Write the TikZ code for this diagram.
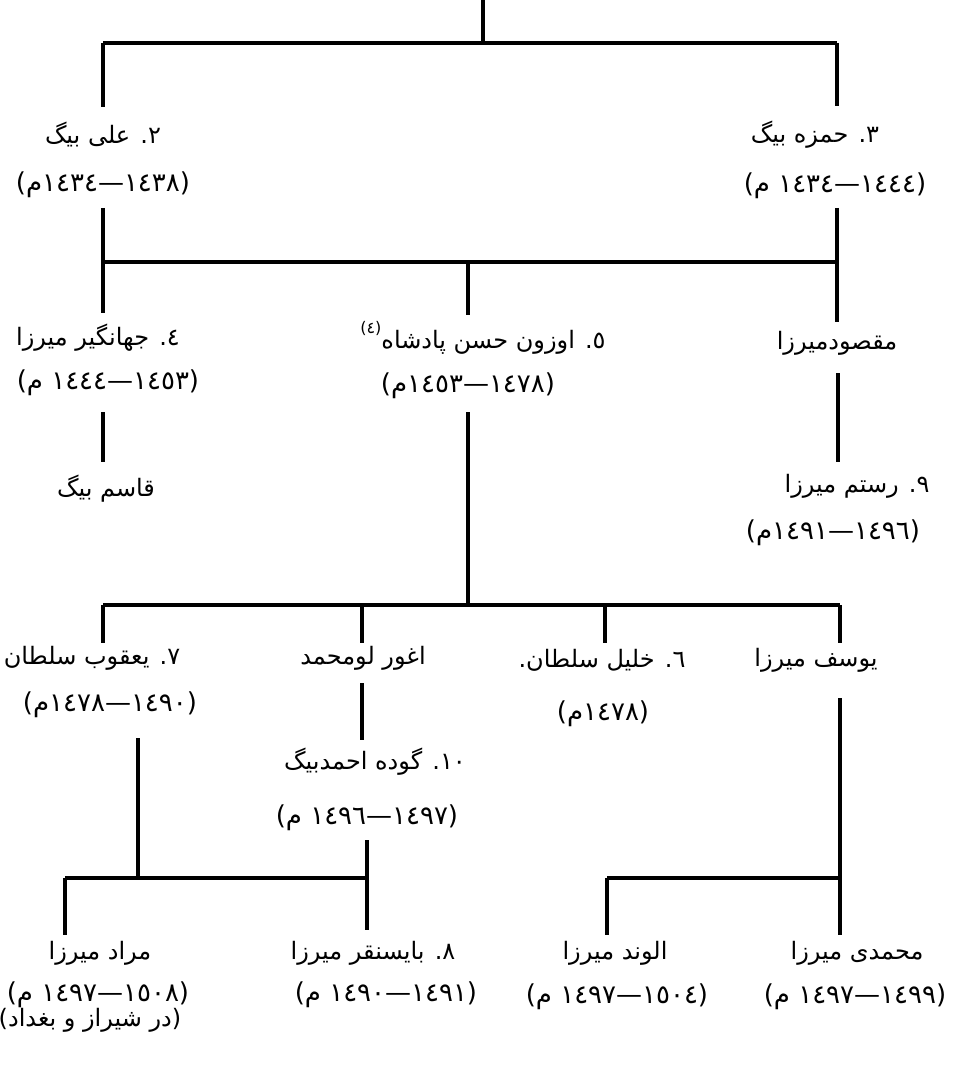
\documentclass[tikz,border=0pt]{standalone}
\usepackage{fontspec}
\TeXXeTstate=1
\newfontfamily\arabicfont[Script=Arabic]{DejaVu Sans}
\newfontfamily\numfont{DejaVu Sans}
\newcommand\dtr[3]{\hbox{\numfont(}\hbox{\arabicfont م}#3\hbox{\numfont #1}\hbox{\numfont —}\hbox{\numfont #2}\hbox{\numfont)}}
\newcommand\dtone[1]{\hbox{\numfont(}\hbox{\arabicfont م}\hbox{\numfont #1}\hbox{\numfont)}}
\begin{document}
\begin{tikzpicture}[x=1pt,y=-1pt,
  txt/.style={font=\arabicfont\fontsize{24}{29}\selectfont, inner sep=0pt, anchor=center},
  dat/.style={font=\arabicfont\fontsize{26}{30}\selectfont, inner sep=0pt, anchor=center},
  ln/.style={line width=3.4pt, line cap=butt}]
\useasboundingbox (0,0) rectangle (961,1075);
% nodes
\node[txt] (n1) at (103,135) {\beginR ٢. علی بیگ\endR};
\node[dat] (d1) at (103,185) {\dtr{١٤٣٤}{١٤٣٨}{}};
\node[txt] (n2) at (815,135) {\beginR ٣. حمزه بیگ\endR};
\node[dat] (d2) at (835,186) {\dtr{١٤٣٤}{١٤٤٤}{\space}};
\node[txt] (n3) at (98,338) {\beginR ٤. جهانگیر میرزا\endR};
\node[dat] (d3) at (108,383) {\dtr{١٤٤٤}{١٤٥٣}{\space}};
\node[txt] (n4) at (483,338) {\beginR ٥. اوزون حسن پادشاه\raisebox{1.1ex}{\fontsize{16}{18}\selectfont(٤)}\endR};
\node[dat] (d4) at (468,386) {\dtr{١٤٥٣}{١٤٧٨}{}};
\node[txt] (n5) at (837,343) {\beginR مقصودمیرزا\endR};
\node[txt] (n6) at (106,489) {\beginR قاسم بیگ\endR};
\node[txt] (n7) at (857,486) {\beginR ٩. رستم میرزا\endR};
\node[dat] (d7) at (833,533) {\dtr{١٤٩١}{١٤٩٦}{}};
\node[txt] (n8) at (92,658) {\beginR ٧. یعقوب سلطان\endR};
\node[dat] (d8) at (110,705) {\dtr{١٤٧٨}{١٤٩٠}{}};
\node[txt] (n9) at (363,658) {\beginR اغور لومحمد\endR};
\node[txt] (n10) at (602,660) {\beginR ٦. خلیل سلطان.\endR};
\node[dat] (d10) at (603,714) {\dtone{١٤٧٨}};
\node[txt] (n11) at (816,660) {\beginR یوسف میرزا\endR};
\node[txt] (n12) at (375,762) {\beginR ١٠. گوده احمدبیگ\endR};
\node[dat] (d12) at (367,818) {\dtr{١٤٩٦}{١٤٩٧}{\space}};
\node[txt] (n13) at (100,953) {\beginR مراد میرزا\endR};
\node[dat] (d13) at (98,995) {\dtr{١٤٩٧}{١٥٠٨}{\space}};
\node[txt] (x13) at (90,1020) {\beginR (در شیراز و بغداد)\endR};
\node[txt] (n14) at (373,953) {\beginR ٨. بایسنقر میرزا\endR};
\node[dat] (d14) at (386,995) {\dtr{١٤٩٠}{١٤٩١}{\space}};
\node[txt] (n15) at (615,953) {\beginR الوند میرزا\endR};
\node[dat] (d15) at (617,997) {\dtr{١٤٩٧}{١٥٠٤}{\space}};
\node[txt] (n16) at (857,953) {\beginR محمدی میرزا\endR};
\node[dat] (d16) at (855,997) {\dtr{١٤٩٧}{١٤٩٩}{\space}};
% junction coordinates
\coordinate (top) at (483,0);
\coordinate (h1m) at (483,43);
\coordinate (h1l) at (103,43);
\coordinate (h1r) at (837,43);
\coordinate (e1) at (103,107);
\coordinate (e2) at (837,106);
\coordinate (s1) at (103,208);
\coordinate (s2) at (837,208);
\coordinate (h2l) at (103,262);
\coordinate (h2m) at (468,262);
\coordinate (h2r) at (837,262);
\coordinate (e3) at (103,313);
\coordinate (e4) at (468,315);
\coordinate (e5) at (837,322);
\coordinate (s3) at (103,412);
\coordinate (e6) at (103,462);
\coordinate (s5) at (838,373);
\coordinate (e7) at (838,462);
\coordinate (s4) at (468,412);
\coordinate (h3m) at (468,605);
\coordinate (h3a) at (103,605);
\coordinate (h3b) at (362,605);
\coordinate (h3c) at (605,605);
\coordinate (h3d) at (840,605);
\coordinate (e8) at (103,643);
\coordinate (e9) at (362,643);
\coordinate (e10) at (605,643);
\coordinate (e11) at (840,643);
\coordinate (s9) at (362,683);
\coordinate (e12) at (362,740);
\coordinate (s8) at (138,738);
\coordinate (h4m) at (138,878);
\coordinate (h4l) at (65,878);
\coordinate (h4r) at (367,878);
\coordinate (e13) at (65,935);
\coordinate (s12) at (367,840);
\coordinate (e14) at (367,930);
\coordinate (s11) at (840,698);
\coordinate (h5r) at (840,878);
\coordinate (h5l) at (607,878);
\coordinate (e15) at (607,935);
\coordinate (e16) at (840,935);
% lines
\draw[ln] (top) -- (h1m);
\draw[ln] (h1l) -- (h1r);
\draw[ln] (h1l) -- (e1);
\draw[ln] (h1r) -- (e2);
\draw[ln] (s1) -- (h2l);
\draw[ln] (s2) -- (h2r);
\draw[ln] (h2l) -- (h2r);
\draw[ln] (h2l) -- (e3);
\draw[ln] (h2m) -- (e4);
\draw[ln] (h2r) -- (e5);
\draw[ln] (s3) -- (e6);
\draw[ln] (s5) -- (e7);
\draw[ln] (s4) -- (h3m);
\draw[ln] (h3a) -- (h3d);
\draw[ln] (h3a) -- (e8);
\draw[ln] (h3b) -- (e9);
\draw[ln] (h3c) -- (e10);
\draw[ln] (h3d) -- (e11);
\draw[ln] (s9) -- (e12);
\draw[ln] (s8) -- (h4m);
\draw[ln] (h4l) -- (h4r);
\draw[ln] (h4l) -- (e13);
\draw[ln] (s12) -- (e14);
\draw[ln] (s11) -- (h5r);
\draw[ln] (h5l) -- (h5r);
\draw[ln] (h5l) -- (e15);
\draw[ln] (h5r) -- (e16);
\end{tikzpicture}
\end{document}
